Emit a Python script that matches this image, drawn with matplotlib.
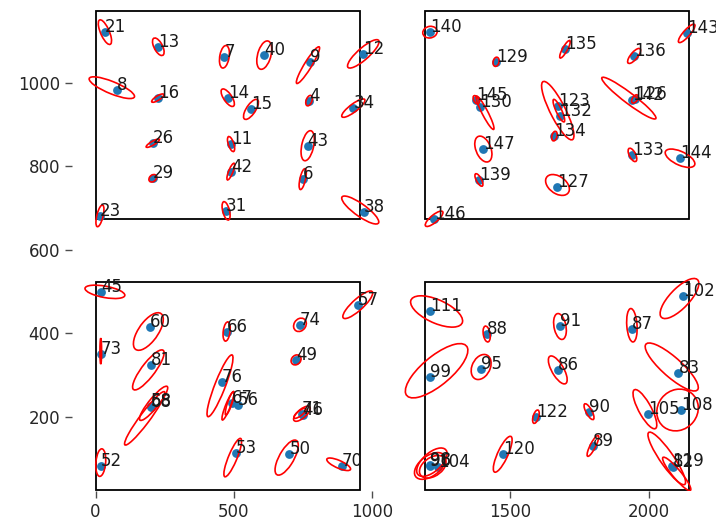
import numpy as np
import matplotlib.pyplot as plt
from matplotlib.patches import Ellipse, Rectangle

# tile borders (data units)
tile_x0 = [0, 1192, 0, 1192]
tile_x1 = [955, 2147, 955, 2147]
tile_y0 = [673, 673, 25, 25]
tile_y1 = [1172, 1172, 522, 522]

# detected spots
spot_id = [21, 13, 7, 40, 9, 12, 8, 16, 14, 15, 4, 34, 26, 11, 29, 42, 43, 6, 23, 31, 38,
           140, 129, 135, 136, 143, 145, 130, 123, 132, 134, 142, 126, 147, 139, 127, 133, 144, 146,
           45, 57, 60, 73, 81, 66, 74, 49, 76, 67, 56, 58, 68, 71, 46, 53, 50, 70, 52,
           111, 88, 91, 87, 102, 99, 95, 86, 83, 122, 90, 105, 108, 120, 89, 119, 82, 96, 98, 104]
spot_x = [34, 227, 466, 610, 776, 968, 77, 225, 478, 562, 772, 932, 207, 490, 207, 489, 767, 749, 16, 472, 971,
          1209, 1448, 1697, 1947, 2137, 1376, 1390, 1673, 1679, 1659, 1939, 1950, 1402, 1386, 1670, 1941, 2113, 1224,
          20, 948, 197, 19, 201, 474, 739, 725, 456, 493, 515, 200, 200, 746, 749, 508, 701, 890, 19,
          1209, 1414, 1679, 1939, 2125, 1209, 1394, 1671, 2107, 1592, 1784, 1996, 2117, 1472, 1798, 2083, 2087, 1209, 1209, 1239]
spot_y = [1121, 1086, 1062, 1066, 1050, 1069, 982, 963, 964, 936, 957, 939, 855, 853, 771, 787, 849, 769, 681, 693, 691,
          1121, 1050, 1080, 1064, 1118, 959, 941, 943, 920, 872, 959, 961, 841, 767, 751, 827, 819, 674,
          499, 468, 414, 350, 324, 404, 420, 336, 284, 232, 229, 226, 224, 207, 203, 112, 110, 83, 82,
          452, 398, 416, 409, 489, 296, 314, 312, 305, 200, 212, 206, 216, 110, 130, 82, 79, 82, 84, 80]

# spread of each spot: half extents along x / y and correlation
half_x = [24, 21, 18, 27, 42, 57, 82, 22, 24, 27, 12, 42, 24, 13, 14, 14, 24, 13, 14.5, 14.5, 67,
          26, 11, 19, 23.5, 30, 11, 32.5, 21, 58.5, 10, 98, 12, 31, 14.5, 43, 15.7, 53.6, 32,
          72, 54, 54, 3, 57, 13, 23, 18, 47, 22, 16, 51, 73, 30, 22, 32, 42, 43, 18,
          94, 13, 23, 19, 70, 113, 36, 34, 96, 12, 18, 43, 75, 34, 21, 68, 51, 56, 55, 48]
half_y = [29.5, 21, 27, 34, 44, 34, 26, 10, 21, 24, 12.5, 22, 10, 18, 9, 20, 36, 25, 26, 22, 33.5,
          14, 11, 21, 18, 22, 10, 40, 27, 70, 11.5, 50, 10, 31, 15, 25, 16, 22, 18.4,
          16, 33, 45, 31, 48, 23, 16, 12, 74, 34, 28, 41, 64, 18, 12, 46, 42, 15, 33,
          37.5, 19, 31, 40, 48, 65, 30, 33.5, 57.5, 16, 19, 47, 50, 43, 25, 63, 40, 32, 34, 27]
rho = [-0.7, -0.6, 0.3, 0.4, 0.93, 0.85, -0.8, 0.8, -0.7, 0.7, 0.4, 0.85, 0.85, -0.6, 0.3, 0.8, 0.4, 0.6, 0.6, -0.5, -0.85,
       0.1, 0.2, 0.85, 0.75, 0.85, -0.5, -0.93, -0.85, -0.85, 0.3, -0.95, 0.5, -0.4, -0.7, -0.4, -0.6, -0.6, 0.8,
       -0.5, 0.85, 0.65, 0.0, 0.85, 0.3, 0.2, 0.2, 0.9, 0.9, 0.85, 0.9, 0.95, 0.7, 0.8, 0.85, 0.7, -0.75, 0.2,
       -0.6, -0.3, -0.3, -0.2, 0.75, 0.75, 0.3, -0.7, -0.85, 0.5, -0.75, -0.8, 0.1, 0.8, 0.85, -0.9, -0.92, 0.5, 0.6, 0.4]
# fitted centre relative to the spot
off_x = [0, 0, 0, 0, -8, 0, -18, 0, 0, 0, 0, 0, 0, 0, 0, 0, 0, 0, 0, 0, -14,
         0, 0, 0, 0, 0, 0, 18, 2, -8, 0, -11, 0, 0, 0, 0, 0, 0, 0,
         14, 0, -6, 0, -10, 0, 0, 0, -6, -14, -30, 10, -22, 0, -10, -12, -10, -11, 0,
         24, 0, 0, 0, -14, 24, 0, 0, -24, 0, 0, -10, -13, 0, 0, -18, 14, 0, 7, -20]
off_y = [0, 0, 0, 0, -8, 0, 6, 0, 0, 0, 0, 0, 0, 0, 0, 0, 0, 0, 0, 0, 4,
         0, 0, 0, 0, 0, 0, -13, -10, 13, 0, 4, 0, 0, 0, 4, 0, 0, 0,
         0, 0, -10, 7, -12, 0, 0, 0, -10, -6, 3, 6, -28, 0, 5, -10, -8, 3, 8,
         0, 0, 0, 10, -6, 14, 5, 0, 14, 0, 0, 12, 0, 0, 0, 18, -16, 0, 7, 0]

fig = plt.figure(figsize=(7.16, 5.21), dpi=100)
ax = fig.add_axes([72 / 716, 30 / 521, 644 / 716, 491 / 521])

for x0, x1, y0, y1 in zip(tile_x0, tile_x1, tile_y0, tile_y1):
    ax.add_patch(Rectangle((x0, y0), x1 - x0, y1 - y0, fill=False, ec='black', lw=1.3, zorder=1))

ax.scatter(spot_x, spot_y, s=40, color='#1f77b4', linewidths=0, zorder=2)

for i in range(len(spot_id)):
    sx, sy, r = half_x[i], half_y[i], rho[i]
    cov = np.array([[sx * sx, r * sx * sy], [r * sx * sy, sy * sy]])
    vals, vecs = np.linalg.eigh(cov)
    ang = np.degrees(np.arctan2(vecs[1, 1], vecs[0, 1]))
    e = Ellipse((spot_x[i] + off_x[i], spot_y[i] + off_y[i]),
                2 * np.sqrt(vals[1]), 2 * np.sqrt(vals[0]), angle=ang,
                fill=False, ec='red', lw=1.2, zorder=3)
    ax.add_patch(e)
    ax.text(spot_x[i], spot_y[i], str(spot_id[i]), fontsize=12, color='0.1', zorder=4)

ax.set_xlim(-85, 2243)
ax.set_ylim(22, 1198)
ax.set_xticks([0, 500, 1000, 1500, 2000])
ax.set_yticks([200, 400, 600, 800, 1000])
for s in ax.spines.values():
    s.set_visible(False)
ax.tick_params(labelsize=12, length=5, width=1, color='0.3', labelcolor='0.15')

fig.savefig('out.png', dpi=100)
